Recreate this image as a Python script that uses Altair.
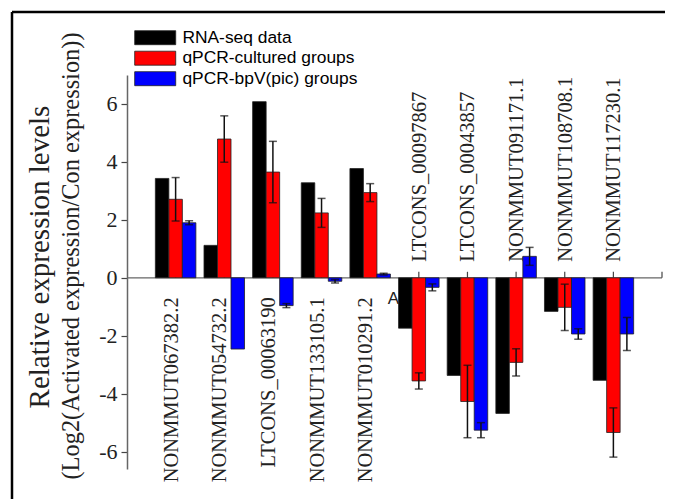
import altair as alt
import pandas as pd

genes = ["NONMMUT067382.2", "NONMMUT054732.2", "LTCONS_00063190", "NONMMUT133105.1",
         "NONMMUT010291.2", "LTCONS_00097867", "LTCONS_00043857", "NONMMUT091171.1",
         "NONMMUT108708.1", "NONMMUT117230.1"]
series_names = ["RNA-seq data", "qPCR-cultured groups", "qPCR-bpV(pic) groups"]
colors = ["#000000", "#ff0000", "#0000ff"]

rna_seq = [3.43, 1.12, 6.08, 3.28, 3.77, -1.74, -3.37, -4.68, -1.16, -3.54]
qpcr_cultured = [2.71, 4.79, 3.65, 2.24, 2.94, -3.56, -4.27, -2.92, -1.02, -5.34]
qpcr_bpv = [1.90, -2.46, -0.96, -0.12, 0.13, -0.33, -5.26, 0.74, -1.94, -1.94]
err_cultured = [0.75, 0.80, 1.06, 0.50, 0.31, 0.28, 1.25, 0.47, 0.80, 0.85]
err_bpv = [0.07, 0.0, 0.07, 0.06, 0.03, 0.12, 0.26, 0.31, 0.18, 0.57]
y_ticks = [-6, -4, -2, 0, 2, 4, 6]
y_domain = [-6.6, 7.0]

W, H = 535, 394
zero_px = H * y_domain[1] / (y_domain[1] - y_domain[0])

rows = []
for i, g in enumerate(genes):
    for s, vals, errs in [(series_names[0], rna_seq, None),
                          (series_names[1], qpcr_cultured, err_cultured),
                          (series_names[2], qpcr_bpv, err_bpv)]:
        v = vals[i]
        e = errs[i] if errs is not None else 0.0
        rows.append({"gene": g, "series": s, "value": v, "err": e,
                     "lo": v - e, "hi": v + e})
df = pd.DataFrame(rows)
err_df = df[df["err"] > 0]
lab_df = pd.DataFrame({"gene": genes, "rna": rna_seq})

serif = "Liberation Serif"
sans = "Liberation Sans"

xscale = alt.Scale(domain=genes, paddingInner=0.167, paddingOuter=0.583)
X = alt.X("gene:N", sort=genes, scale=xscale, axis=None)
yscale = alt.Scale(domain=y_domain, nice=False, zero=False)
yaxis = alt.Axis(values=y_ticks, title=None, tickSize=6, tickColor="#444", tickWidth=1.2,
                 domainColor="#666", domainWidth=1.5, labelFont=serif, labelFontSize=22,
                 labelColor="#222", labelPadding=4, grid=False,
                 labelExpr="toString(datum.value)")
Y0 = alt.Y(datum=0, scale=yscale, axis=yaxis)
XO = alt.XOffset("series:N", sort=series_names,
                 scale=alt.Scale(domain=series_names, paddingInner=0, paddingOuter=0))

one = pd.DataFrame({"k": [0]})

# zero line (x axis) and its upward ticks
zero_line = alt.Chart(one).mark_rule(color="#666", strokeWidth=1.2).encode(
    x=alt.value(0), x2=alt.value(W), y=Y0)
x_ticks = alt.Chart(lab_df).mark_rule(color="#444", strokeWidth=1.2).encode(
    x=X, y=Y0, y2=alt.value(zero_px - 6))
end_tick = alt.Chart(one).mark_rule(color="#444", strokeWidth=1.2).encode(
    x=alt.value(W), y=Y0, y2=alt.value(zero_px - 6))

bars = alt.Chart(df).mark_bar(stroke="#222", strokeWidth=0.8).encode(
    x=X,
    xOffset=XO,
    y=alt.Y("value:Q", scale=yscale, axis=yaxis),
    y2=alt.Y2(datum=0),
    color=alt.Color("series:N", sort=series_names,
                    scale=alt.Scale(domain=series_names, range=colors),
                    legend=alt.Legend(title=None, orient="none", legendX=19.5, legendY=-46,
                                      symbolType="M-2.93,-1H2.93V1H-2.93Z", symbolSize=196,
                                      symbolStrokeColor="#222", symbolStrokeWidth=0.8,
                                      symbolOpacity=1, labelFont=sans, labelFontSize=17.4,
                                      labelColor="#000", labelOffset=18.5, rowPadding=1.5,
                                      labelLimit=0)),
)

err_rule = alt.Chart(err_df).mark_rule(color="#111", strokeWidth=1.5).encode(
    x=X, xOffset=XO, y=alt.Y("lo:Q", scale=yscale, axis=yaxis), y2="hi:Q")
cap_lo = alt.Chart(err_df).mark_tick(color="#111", thickness=1.5, size=8).encode(
    x=X, xOffset=XO, y=alt.Y("lo:Q", scale=yscale, axis=yaxis))
cap_hi = alt.Chart(err_df).mark_tick(color="#111", thickness=1.5, size=8).encode(
    x=X, xOffset=XO, y=alt.Y("hi:Q", scale=yscale, axis=yaxis))

lab_below = alt.Chart(lab_df).transform_filter("datum.rna > 0").mark_text(
    angle=270, align="right", baseline="middle", dx=-19.5, dy=-4,
    font=serif, fontSize=20.5, color="#222").encode(
    x=X, y=Y0, text="gene:N")
lab_above = alt.Chart(lab_df).transform_filter("datum.rna <= 0").mark_text(
    angle=270, align="left", baseline="middle", dx=16, dy=1,
    font=serif, fontSize=20.5, color="#222").encode(
    x=X, y=Y0, text="gene:N")

frame_top = alt.Chart(one).mark_rule(color="#000", strokeWidth=2.5).encode(
    x=alt.value(-115), x2=alt.value(W + 20), y=alt.value(-63))
frame_left = alt.Chart(one).mark_rule(color="#000", strokeWidth=2.5).encode(
    x=alt.value(-115), y=alt.value(-63), y2=alt.value(H + 40))

title1 = alt.Chart(one).mark_text(text="Relative expression levels", angle=270,
                                  align="center", baseline="middle", font=serif,
                                  fontSize=29, color="#222").encode(
    x=alt.value(-87), y=alt.value(182))
title2 = alt.Chart(one).mark_text(text="(Log2(Activated expression/Con expression))",
                                  angle=270, align="center", baseline="middle", font=serif,
                                  fontSize=24.4, color="#222").encode(
    x=alt.value(-55), y=alt.value(181))
stray = alt.Chart(one).mark_text(text="A", align="center", baseline="middle", font=sans,
                                 fontSize=17, color="#222").encode(
    x=alt.value(266.5), y=alt.value(224))

chart = alt.layer(zero_line, x_ticks, end_tick, bars, err_rule, cap_lo, cap_hi,
                  lab_below, lab_above, frame_top, frame_left, title1, title2,
                  stray).properties(
    width=W, height=H,
    autosize=alt.AutoSizeParams(type="none"),
    padding={"left": 119, "top": 67, "right": 3, "bottom": 30},
).configure_view(stroke=None)

chart.save("out.html", embed_options={"renderer": "svg", "actions": False})
